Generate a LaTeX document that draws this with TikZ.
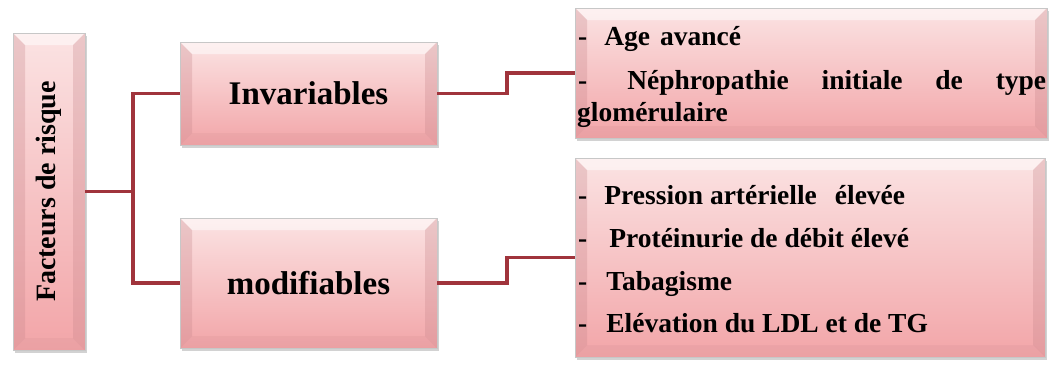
\documentclass[tikz,border=0pt]{standalone}
\usepackage{fontspec}
\setmainfont{Liberation Serif}
\usetikzlibrary{shadows}
\definecolor{linkred}{HTML}{A0343C}
\definecolor{pinktop}{HTML}{FBE3E3}
\definecolor{pinkbot}{HTML}{F2A5A8}
\definecolor{pinkedge}{HTML}{C7868B}
\def\bevw{12pt}
\tikzset{
	bevelbox/.style={draw=black!22, line width=0.4pt, inner sep=0pt,
		top color=pinktop, bottom color=pinkbot,
		drop shadow={shadow xshift=1.5pt, shadow yshift=-3pt, fill=black!35},
		path picture={
			\fill[white, opacity=0.5] (path picture bounding box.north west) -- (path picture bounding box.north east) -- ([xshift=-\bevw, yshift=-\bevw]path picture bounding box.north east) -- ([xshift=\bevw, yshift=-\bevw]path picture bounding box.north west) -- cycle;
			\fill[pinkedge, opacity=0.3] (path picture bounding box.north west) -- ([xshift=\bevw, yshift=-\bevw]path picture bounding box.north west) -- ([xshift=\bevw, yshift=\bevw]path picture bounding box.south west) -- (path picture bounding box.south west) -- cycle;
			\fill[pinkedge, opacity=0.3] (path picture bounding box.north east) -- ([xshift=-\bevw, yshift=-\bevw]path picture bounding box.north east) -- ([xshift=-\bevw, yshift=\bevw]path picture bounding box.south east) -- (path picture bounding box.south east) -- cycle;
			\fill[pinkedge, opacity=0.15] (path picture bounding box.south west) -- ([xshift=\bevw, yshift=\bevw]path picture bounding box.south west) -- ([xshift=-\bevw, yshift=\bevw]path picture bounding box.south east) -- (path picture bounding box.south east) -- cycle;
		}},
	headtext/.style={font=\fontsize{33}{36}\selectfont\bfseries},
	item/.style={anchor=base west, inner sep=0pt, font=\fontsize{27.5}{32}\selectfont\bfseries},
	link/.style={draw=linkred, line width=3.5pt}
}

\begin{document}
\begin{tikzpicture}[x=1pt, y=-1pt]
		%%%%% START %%%%%
		\useasboundingbox (0, 0) rectangle (1053, 365);
		
		\node[bevelbox, minimum width=72pt, minimum height=317pt] (risk) at (49, 191.5) {\rotatebox{90}{\fontsize{28}{30}\selectfont\bfseries Facteurs de risque}};
		
		\node[bevelbox, headtext, minimum width=257pt, minimum height=103pt] (invar) at (308.5, 93.5) {Invariables};
		\node[bevelbox, headtext, minimum width=257pt, minimum height=130pt] (modif) at (308.5, 283) {modifiables};
		
		\node[bevelbox, minimum width=472pt, minimum height=130pt] (listA) at (811, 73) {};
		\node[bevelbox, minimum width=470pt, minimum height=199pt] (listB) at (810, 257.5) {};
		
		\node[item] (age) at (578, 45) {-\hspace{17pt}Age\hspace{10pt}avancé};
		\node[item] (nephro) at (578, 89) {\makebox[468pt][s]{-\hspace{40pt}Néphropathie initiale de type}};
		\node[item] (glom) at (577, 121) {glomérulaire};
		
		\node[item] (pression) at (578, 204) {-\hspace{17pt}Pression artérielle\hspace{18pt}élevée};
		\node[item] (proteine) at (578, 247) {-\hspace{22pt}Protéinurie de débit élevé};
		\node[item] (tabac) at (578, 290) {-\hspace{19pt}Tabagisme};
		\node[item] (ldl) at (578, 332) {-\hspace{19pt}Elévation du LDL et de TG};
		
		\draw[link] (risk.east) -- ++(48, 0) |- (invar.west);
		\draw[link] (risk.east) -- ++(48, 0) |- (modif.west);
		
		\draw[link] (invar.east) -- ++(70, 0) |- (listA.west);
		\draw[link] (modif.east) -- ++(70, 0) |- (listB.west);
		
		%%%%% END %%%%%
	\end{tikzpicture}
\end{document}
